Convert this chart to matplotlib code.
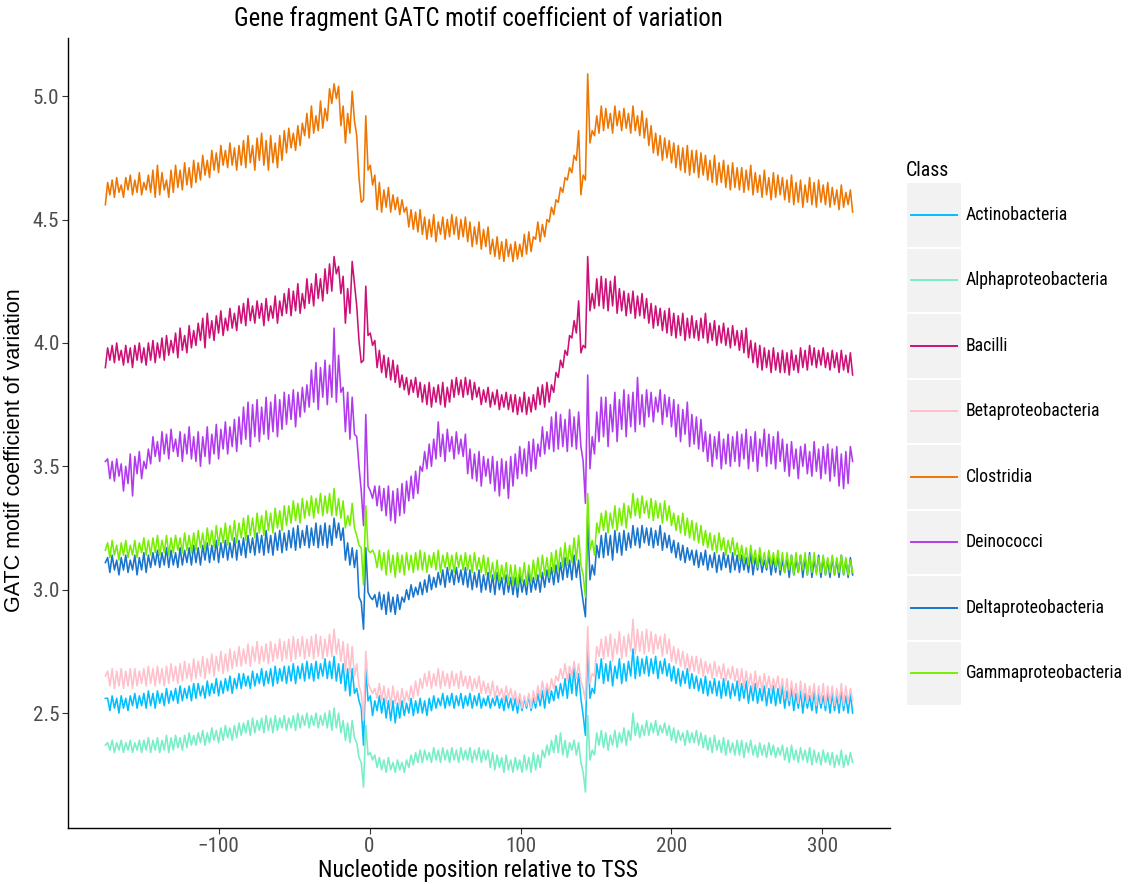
import numpy as np
import matplotlib
matplotlib.use("Agg")
import matplotlib.pyplot as plt
from matplotlib import font_manager
from matplotlib.patches import Rectangle

# GATC coefficient of variation per class, peaks/troughs every 1.5 nt from -175
start, step = -175, 1.5

actinobacteria = [
    2.56, 2.56, 2.51, 2.57, 2.52, 2.56, 2.50, 2.57, 2.52, 2.56, 2.51, 2.57, 2.53, 2.58, 2.52, 2.57, 2.53, 2.58, 2.52, 2.59,
    2.53, 2.58, 2.52, 2.59, 2.54, 2.58, 2.53, 2.60, 2.54, 2.59, 2.55, 2.60, 2.54, 2.61, 2.55, 2.60, 2.56, 2.61, 2.55, 2.62,
    2.56, 2.62, 2.57, 2.61, 2.56, 2.63, 2.57, 2.62, 2.58, 2.64, 2.57, 2.63, 2.58, 2.64, 2.59, 2.65, 2.58, 2.64, 2.60, 2.66,
    2.60, 2.66, 2.61, 2.65, 2.60, 2.67, 2.61, 2.66, 2.62, 2.68, 2.61, 2.67, 2.62, 2.68, 2.61, 2.69, 2.62, 2.68, 2.63, 2.69,
    2.62, 2.69, 2.63, 2.70, 2.62, 2.69, 2.64, 2.70, 2.63, 2.71, 2.64, 2.70, 2.63, 2.71, 2.64, 2.70, 2.65, 2.72, 2.64, 2.71,
    2.64, 2.73, 2.63, 2.70, 2.62, 2.70, 2.59, 2.68, 2.57, 2.68, 2.58, 2.60, 2.55, 2.52, 2.37, 2.68, 2.55, 2.57, 2.49, 2.55,
    2.51, 2.57, 2.50, 2.56, 2.48, 2.55, 2.47, 2.55, 2.46, 2.54, 2.48, 2.55, 2.49, 2.54, 2.50, 2.56, 2.49, 2.55, 2.50, 2.56,
    2.50, 2.55, 2.49, 2.56, 2.51, 2.57, 2.52, 2.56, 2.53, 2.58, 2.52, 2.57, 2.53, 2.58, 2.52, 2.57, 2.53, 2.58, 2.52, 2.57,
    2.53, 2.58, 2.52, 2.57, 2.53, 2.58, 2.52, 2.56, 2.53, 2.57, 2.52, 2.56, 2.53, 2.57, 2.52, 2.56, 2.51, 2.57, 2.52, 2.56,
    2.51, 2.56, 2.50, 2.57, 2.51, 2.56, 2.52, 2.57, 2.51, 2.56, 2.52, 2.58, 2.53, 2.59, 2.52, 2.60, 2.54, 2.59, 2.55, 2.61,
    2.56, 2.62, 2.57, 2.64, 2.56, 2.66, 2.58, 2.69, 2.57, 2.66, 2.56, 2.49, 2.41, 2.79, 2.56, 2.60, 2.58, 2.70, 2.64, 2.72,
    2.62, 2.70, 2.63, 2.71, 2.61, 2.69, 2.64, 2.72, 2.62, 2.70, 2.63, 2.71, 2.65, 2.76, 2.64, 2.73, 2.65, 2.72, 2.66, 2.73,
    2.65, 2.72, 2.66, 2.73, 2.64, 2.71, 2.66, 2.72, 2.65, 2.70, 2.63, 2.69, 2.62, 2.68, 2.61, 2.67, 2.62, 2.68, 2.60, 2.66,
    2.60, 2.65, 2.59, 2.64, 2.58, 2.65, 2.57, 2.63, 2.58, 2.64, 2.57, 2.63, 2.56, 2.64, 2.57, 2.63, 2.56, 2.62, 2.57, 2.63,
    2.55, 2.62, 2.56, 2.63, 2.54, 2.61, 2.55, 2.62, 2.54, 2.60, 2.55, 2.61, 2.53, 2.60, 2.54, 2.61, 2.53, 2.60, 2.54, 2.61,
    2.52, 2.59, 2.53, 2.60, 2.51, 2.58, 2.52, 2.59, 2.50, 2.58, 2.52, 2.57, 2.51, 2.59, 2.50, 2.58, 2.52, 2.57, 2.51, 2.58,
    2.50, 2.58, 2.51, 2.57, 2.50, 2.59, 2.51, 2.57, 2.50, 2.58, 2.50,
]

alphaproteobacteria = [
    2.37, 2.38, 2.35, 2.39, 2.34, 2.38, 2.35, 2.39, 2.34, 2.38, 2.35, 2.39, 2.34, 2.38, 2.35, 2.39, 2.34, 2.39, 2.35, 2.40,
    2.34, 2.39, 2.35, 2.40, 2.34, 2.39, 2.35, 2.41, 2.34, 2.40, 2.35, 2.41, 2.36, 2.40, 2.35, 2.41, 2.36, 2.42, 2.37, 2.41,
    2.37, 2.42, 2.38, 2.43, 2.37, 2.42, 2.38, 2.44, 2.39, 2.43, 2.38, 2.44, 2.39, 2.45, 2.40, 2.44, 2.39, 2.45, 2.40, 2.46,
    2.41, 2.46, 2.42, 2.47, 2.41, 2.48, 2.42, 2.47, 2.43, 2.48, 2.42, 2.49, 2.43, 2.48, 2.42, 2.49, 2.43, 2.48, 2.44, 2.49,
    2.43, 2.48, 2.44, 2.49, 2.43, 2.50, 2.44, 2.49, 2.45, 2.50, 2.44, 2.49, 2.45, 2.50, 2.44, 2.49, 2.45, 2.50, 2.44, 2.51,
    2.43, 2.52, 2.44, 2.50, 2.42, 2.47, 2.39, 2.46, 2.38, 2.47, 2.40, 2.38, 2.32, 2.30, 2.20, 2.45, 2.33, 2.34, 2.31, 2.33,
    2.28, 2.32, 2.27, 2.31, 2.26, 2.32, 2.27, 2.30, 2.26, 2.31, 2.27, 2.30, 2.26, 2.31, 2.28, 2.33, 2.29, 2.34, 2.30, 2.35,
    2.30, 2.35, 2.31, 2.34, 2.30, 2.36, 2.31, 2.35, 2.30, 2.36, 2.31, 2.35, 2.30, 2.36, 2.31, 2.35, 2.30, 2.36, 2.31, 2.35,
    2.31, 2.36, 2.30, 2.35, 2.31, 2.36, 2.30, 2.35, 2.31, 2.35, 2.28, 2.34, 2.27, 2.33, 2.28, 2.32, 2.26, 2.33, 2.27, 2.31,
    2.26, 2.32, 2.27, 2.31, 2.26, 2.33, 2.27, 2.32, 2.26, 2.34, 2.27, 2.33, 2.28, 2.35, 2.32, 2.37, 2.33, 2.39, 2.34, 2.41,
    2.34, 2.42, 2.33, 2.39, 2.32, 2.38, 2.35, 2.39, 2.33, 2.38, 2.30, 2.26, 2.18, 2.49, 2.31, 2.35, 2.33, 2.42, 2.37, 2.43,
    2.36, 2.42, 2.35, 2.41, 2.37, 2.43, 2.36, 2.42, 2.38, 2.44, 2.37, 2.43, 2.39, 2.50, 2.41, 2.46, 2.40, 2.45, 2.41, 2.47,
    2.41, 2.46, 2.42, 2.47, 2.41, 2.45, 2.42, 2.46, 2.41, 2.45, 2.39, 2.44, 2.38, 2.43, 2.39, 2.42, 2.37, 2.43, 2.38, 2.42,
    2.38, 2.43, 2.37, 2.42, 2.36, 2.41, 2.35, 2.40, 2.34, 2.41, 2.35, 2.39, 2.34, 2.40, 2.33, 2.39, 2.34, 2.38, 2.33, 2.39,
    2.33, 2.39, 2.32, 2.38, 2.34, 2.39, 2.33, 2.37, 2.32, 2.38, 2.33, 2.37, 2.32, 2.38, 2.33, 2.37, 2.32, 2.36, 2.33, 2.37,
    2.31, 2.36, 2.30, 2.37, 2.31, 2.35, 2.30, 2.36, 2.31, 2.35, 2.30, 2.36, 2.29, 2.35, 2.30, 2.34, 2.29, 2.35, 2.30, 2.34,
    2.29, 2.34, 2.28, 2.33, 2.29, 2.35, 2.28, 2.33, 2.29, 2.34, 2.30,
]

bacilli = [
    3.90, 3.98, 3.93, 3.99, 3.92, 4.00, 3.93, 3.97, 3.91, 3.99, 3.92, 3.98, 3.90, 3.99, 3.93, 4.00, 3.92, 3.98, 3.91, 4.00,
    3.93, 4.01, 3.92, 4.00, 3.94, 4.02, 3.93, 4.03, 3.95, 4.01, 3.96, 4.04, 3.94, 4.06, 3.97, 4.03, 3.96, 4.07, 3.98, 4.05,
    3.99, 4.08, 4.01, 4.10, 3.98, 4.12, 4.02, 4.09, 4.01, 4.11, 4.04, 4.13, 4.03, 4.10, 4.05, 4.14, 4.06, 4.12, 4.05, 4.15,
    4.08, 4.16, 4.07, 4.18, 4.09, 4.15, 4.08, 4.17, 4.10, 4.16, 4.07, 4.18, 4.09, 4.15, 4.10, 4.19, 4.08, 4.17, 4.11, 4.20,
    4.12, 4.22, 4.11, 4.21, 4.13, 4.24, 4.12, 4.20, 4.14, 4.26, 4.16, 4.24, 4.15, 4.28, 4.18, 4.26, 4.17, 4.30, 4.20, 4.32,
    4.21, 4.35, 4.28, 4.31, 4.20, 4.27, 4.08, 4.22, 4.12, 4.33, 4.24, 4.15, 4.01, 3.92, 3.93, 4.23, 4.03, 4.04, 3.99, 4.01,
    3.90, 3.97, 3.88, 3.95, 3.86, 3.94, 3.85, 3.93, 3.84, 3.91, 3.82, 3.87, 3.81, 3.86, 3.79, 3.85, 3.80, 3.86, 3.78, 3.84,
    3.76, 3.83, 3.75, 3.84, 3.74, 3.82, 3.76, 3.83, 3.75, 3.84, 3.74, 3.82, 3.76, 3.85, 3.78, 3.86, 3.79, 3.85, 3.78, 3.86,
    3.79, 3.85, 3.77, 3.84, 3.78, 3.82, 3.75, 3.81, 3.76, 3.82, 3.74, 3.80, 3.75, 3.81, 3.73, 3.79, 3.74, 3.80, 3.73, 3.79,
    3.72, 3.79, 3.71, 3.78, 3.72, 3.80, 3.71, 3.78, 3.72, 3.79, 3.73, 3.82, 3.75, 3.83, 3.74, 3.84, 3.76, 3.83, 3.80, 3.88,
    3.86, 3.93, 3.90, 3.97, 3.95, 4.03, 4.02, 4.09, 4.04, 4.17, 3.96, 3.99, 3.98, 4.35, 4.13, 4.20, 4.14, 4.26, 4.15, 4.27,
    4.14, 4.26, 4.13, 4.25, 4.15, 4.27, 4.12, 4.22, 4.13, 4.21, 4.11, 4.20, 4.12, 4.21, 4.10, 4.19, 4.11, 4.20, 4.10, 4.18,
    4.08, 4.16, 4.06, 4.15, 4.07, 4.14, 4.05, 4.13, 4.04, 4.14, 4.03, 4.12, 4.02, 4.11, 4.03, 4.12, 4.01, 4.10, 4.02, 4.11,
    4.02, 4.09, 4.01, 4.10, 4.02, 4.12, 4.00, 4.08, 4.01, 4.09, 3.99, 4.07, 4.00, 4.08, 3.99, 4.06, 3.98, 4.07, 3.99, 4.05,
    3.97, 4.05, 3.96, 4.06, 3.94, 4.01, 3.92, 4.00, 3.90, 3.99, 3.89, 3.98, 3.90, 3.97, 3.88, 3.98, 3.89, 3.96, 3.88, 3.97,
    3.88, 3.96, 3.87, 3.97, 3.89, 3.95, 3.88, 3.98, 3.90, 3.97, 3.89, 3.99, 3.91, 3.98, 3.90, 3.97, 3.91, 3.98, 3.90, 3.96,
    3.89, 3.97, 3.90, 3.96, 3.88, 3.97, 3.89, 3.95, 3.88, 3.96, 3.87,
]

betaproteobacteria = [
    2.65, 2.67, 2.61, 2.68, 2.60, 2.67, 2.61, 2.68, 2.60, 2.67, 2.61, 2.68, 2.60, 2.68, 2.61, 2.67, 2.62, 2.68, 2.61, 2.69,
    2.62, 2.68, 2.61, 2.69, 2.62, 2.68, 2.61, 2.69, 2.62, 2.70, 2.63, 2.69, 2.62, 2.70, 2.63, 2.71, 2.64, 2.70, 2.63, 2.72,
    2.64, 2.71, 2.65, 2.73, 2.64, 2.72, 2.66, 2.74, 2.65, 2.73, 2.67, 2.75, 2.66, 2.74, 2.67, 2.76, 2.68, 2.75, 2.69, 2.77,
    2.69, 2.76, 2.70, 2.78, 2.69, 2.77, 2.71, 2.79, 2.70, 2.77, 2.71, 2.78, 2.70, 2.79, 2.71, 2.78, 2.72, 2.80, 2.71, 2.79,
    2.72, 2.80, 2.71, 2.81, 2.72, 2.80, 2.73, 2.81, 2.72, 2.80, 2.73, 2.81, 2.72, 2.82, 2.73, 2.81, 2.72, 2.80, 2.73, 2.82,
    2.73, 2.84, 2.74, 2.80, 2.71, 2.79, 2.67, 2.78, 2.66, 2.77, 2.65, 2.70, 2.61, 2.58, 2.47, 2.75, 2.62, 2.60, 2.58, 2.60,
    2.56, 2.62, 2.55, 2.61, 2.54, 2.60, 2.53, 2.61, 2.54, 2.59, 2.53, 2.60, 2.54, 2.59, 2.55, 2.61, 2.56, 2.63, 2.57, 2.64,
    2.60, 2.66, 2.61, 2.67, 2.60, 2.66, 2.61, 2.68, 2.60, 2.67, 2.61, 2.66, 2.60, 2.67, 2.61, 2.66, 2.60, 2.67, 2.61, 2.65,
    2.60, 2.65, 2.59, 2.64, 2.60, 2.65, 2.58, 2.63, 2.58, 2.62, 2.57, 2.63, 2.56, 2.61, 2.57, 2.60, 2.55, 2.61, 2.56, 2.60,
    2.55, 2.59, 2.53, 2.58, 2.52, 2.57, 2.53, 2.58, 2.52, 2.59, 2.54, 2.61, 2.56, 2.63, 2.57, 2.62, 2.58, 2.64, 2.60, 2.65,
    2.63, 2.68, 2.64, 2.70, 2.63, 2.69, 2.65, 2.71, 2.64, 2.70, 2.63, 2.60, 2.55, 2.85, 2.62, 2.66, 2.65, 2.77, 2.73, 2.80,
    2.72, 2.81, 2.73, 2.82, 2.71, 2.80, 2.74, 2.83, 2.72, 2.81, 2.73, 2.82, 2.75, 2.88, 2.74, 2.84, 2.75, 2.83, 2.74, 2.84,
    2.75, 2.83, 2.74, 2.82, 2.76, 2.81, 2.73, 2.82, 2.74, 2.80, 2.71, 2.77, 2.70, 2.76, 2.69, 2.75, 2.68, 2.74, 2.67, 2.73,
    2.67, 2.73, 2.66, 2.72, 2.65, 2.71, 2.66, 2.70, 2.64, 2.71, 2.65, 2.69, 2.64, 2.70, 2.63, 2.68, 2.64, 2.69, 2.63, 2.68,
    2.61, 2.68, 2.60, 2.67, 2.61, 2.66, 2.59, 2.67, 2.60, 2.65, 2.59, 2.66, 2.60, 2.65, 2.59, 2.64, 2.60, 2.65, 2.58, 2.64,
    2.56, 2.64, 2.55, 2.63, 2.56, 2.62, 2.54, 2.63, 2.55, 2.62, 2.54, 2.61, 2.55, 2.62, 2.53, 2.61, 2.54, 2.62, 2.53, 2.61,
    2.54, 2.61, 2.53, 2.60, 2.54, 2.62, 2.53, 2.61, 2.54, 2.60, 2.55,
]

clostridia = [
    4.56, 4.65, 4.60, 4.66, 4.59, 4.67, 4.61, 4.64, 4.59, 4.67, 4.62, 4.68, 4.60, 4.66, 4.61, 4.69, 4.60, 4.65, 4.62, 4.68,
    4.61, 4.70, 4.59, 4.72, 4.60, 4.69, 4.62, 4.66, 4.59, 4.70, 4.61, 4.72, 4.63, 4.70, 4.62, 4.73, 4.64, 4.71, 4.63, 4.74,
    4.65, 4.73, 4.66, 4.76, 4.68, 4.74, 4.67, 4.78, 4.70, 4.77, 4.69, 4.80, 4.72, 4.78, 4.71, 4.81, 4.72, 4.79, 4.70, 4.80,
    4.72, 4.82, 4.71, 4.84, 4.73, 4.80, 4.70, 4.83, 4.74, 4.85, 4.72, 4.82, 4.70, 4.84, 4.73, 4.81, 4.71, 4.84, 4.74, 4.86,
    4.77, 4.87, 4.79, 4.85, 4.78, 4.88, 4.80, 4.89, 4.84, 4.93, 4.83, 4.96, 4.85, 4.92, 4.86, 4.98, 4.87, 4.95, 4.90, 5.03,
    4.97, 5.05, 4.99, 5.04, 4.88, 4.96, 4.81, 4.93, 4.85, 5.02, 4.90, 4.84, 4.67, 4.57, 4.58, 4.92, 4.70, 4.72, 4.64, 4.68,
    4.54, 4.65, 4.53, 4.62, 4.55, 4.63, 4.53, 4.60, 4.54, 4.59, 4.52, 4.58, 4.53, 4.55, 4.47, 4.54, 4.46, 4.53, 4.45, 4.54,
    4.44, 4.51, 4.42, 4.50, 4.43, 4.52, 4.41, 4.49, 4.44, 4.51, 4.42, 4.50, 4.43, 4.52, 4.44, 4.51, 4.42, 4.50, 4.43, 4.51,
    4.41, 4.49, 4.39, 4.47, 4.40, 4.49, 4.38, 4.46, 4.39, 4.47, 4.36, 4.42, 4.35, 4.43, 4.34, 4.41, 4.33, 4.42, 4.35, 4.40,
    4.33, 4.41, 4.34, 4.40, 4.35, 4.44, 4.36, 4.45, 4.37, 4.43, 4.42, 4.49, 4.41, 4.48, 4.43, 4.50, 4.49, 4.55, 4.52, 4.58,
    4.57, 4.63, 4.61, 4.67, 4.66, 4.71, 4.69, 4.76, 4.74, 4.86, 4.60, 4.68, 4.66, 5.09, 4.81, 4.86, 4.84, 4.92, 4.85, 4.96,
    4.86, 4.95, 4.87, 4.93, 4.85, 4.96, 4.88, 4.94, 4.86, 4.95, 4.87, 4.93, 4.85, 4.96, 4.86, 4.92, 4.84, 4.94, 4.83, 4.91,
    4.80, 4.88, 4.77, 4.85, 4.76, 4.84, 4.74, 4.83, 4.75, 4.82, 4.73, 4.81, 4.71, 4.80, 4.70, 4.79, 4.69, 4.80, 4.68, 4.78,
    4.69, 4.78, 4.67, 4.77, 4.68, 4.76, 4.66, 4.74, 4.65, 4.76, 4.64, 4.73, 4.65, 4.74, 4.63, 4.72, 4.62, 4.73, 4.63, 4.71,
    4.62, 4.71, 4.61, 4.70, 4.62, 4.72, 4.60, 4.69, 4.61, 4.68, 4.59, 4.70, 4.60, 4.67, 4.58, 4.69, 4.59, 4.68, 4.60, 4.67,
    4.58, 4.66, 4.57, 4.68, 4.56, 4.65, 4.57, 4.66, 4.55, 4.64, 4.57, 4.67, 4.56, 4.65, 4.55, 4.66, 4.57, 4.64, 4.56, 4.65,
    4.55, 4.63, 4.56, 4.62, 4.54, 4.64, 4.55, 4.61, 4.56, 4.62, 4.53,
]

deinococci = [
    3.52, 3.53, 3.45, 3.52, 3.44, 3.53, 3.46, 3.51, 3.40, 3.50, 3.43, 3.55, 3.38, 3.54, 3.47, 3.56, 3.45, 3.52, 3.49, 3.57,
    3.51, 3.62, 3.54, 3.60, 3.52, 3.64, 3.55, 3.63, 3.53, 3.65, 3.56, 3.61, 3.54, 3.64, 3.52, 3.63, 3.55, 3.66, 3.53, 3.62,
    3.52, 3.64, 3.50, 3.62, 3.54, 3.66, 3.51, 3.63, 3.55, 3.67, 3.53, 3.65, 3.57, 3.68, 3.55, 3.66, 3.58, 3.69, 3.56, 3.70,
    3.59, 3.74, 3.61, 3.76, 3.58, 3.75, 3.62, 3.77, 3.60, 3.74, 3.63, 3.78, 3.61, 3.76, 3.64, 3.79, 3.62, 3.77, 3.65, 3.80,
    3.67, 3.79, 3.69, 3.81, 3.66, 3.80, 3.70, 3.82, 3.72, 3.83, 3.74, 3.89, 3.76, 3.92, 3.73, 3.90, 3.78, 3.93, 3.75, 3.91,
    3.78, 4.06, 3.76, 3.95, 3.80, 3.82, 3.64, 3.80, 3.61, 3.78, 3.63, 3.62, 3.50, 3.40, 3.26, 3.71, 3.42, 3.40, 3.37, 3.42,
    3.34, 3.42, 3.32, 3.41, 3.30, 3.42, 3.28, 3.40, 3.27, 3.41, 3.30, 3.43, 3.31, 3.44, 3.36, 3.46, 3.37, 3.48, 3.39, 3.50,
    3.48, 3.56, 3.49, 3.59, 3.50, 3.61, 3.53, 3.68, 3.54, 3.63, 3.52, 3.65, 3.56, 3.62, 3.53, 3.64, 3.55, 3.61, 3.54, 3.63,
    3.47, 3.57, 3.45, 3.55, 3.44, 3.56, 3.42, 3.54, 3.46, 3.53, 3.43, 3.54, 3.40, 3.52, 3.38, 3.53, 3.41, 3.52, 3.37, 3.54,
    3.42, 3.55, 3.45, 3.58, 3.47, 3.57, 3.46, 3.60, 3.48, 3.61, 3.49, 3.59, 3.54, 3.66, 3.55, 3.64, 3.57, 3.70, 3.56, 3.72,
    3.57, 3.71, 3.58, 3.69, 3.56, 3.73, 3.58, 3.70, 3.57, 3.72, 3.58, 3.52, 3.35, 3.87, 3.49, 3.62, 3.55, 3.72, 3.60, 3.78,
    3.62, 3.78, 3.58, 3.75, 3.64, 3.80, 3.60, 3.77, 3.65, 3.81, 3.62, 3.79, 3.66, 3.80, 3.64, 3.86, 3.67, 3.79, 3.66, 3.81,
    3.70, 3.80, 3.68, 3.78, 3.72, 3.81, 3.67, 3.79, 3.70, 3.78, 3.66, 3.77, 3.62, 3.75, 3.60, 3.73, 3.63, 3.76, 3.58, 3.71,
    3.59, 3.70, 3.57, 3.69, 3.56, 3.64, 3.52, 3.63, 3.50, 3.62, 3.53, 3.64, 3.49, 3.61, 3.51, 3.63, 3.50, 3.62, 3.52, 3.64,
    3.50, 3.63, 3.53, 3.65, 3.49, 3.62, 3.52, 3.64, 3.48, 3.61, 3.54, 3.65, 3.50, 3.63, 3.51, 3.62, 3.49, 3.64, 3.52, 3.61,
    3.48, 3.59, 3.46, 3.60, 3.49, 3.57, 3.45, 3.58, 3.50, 3.59, 3.47, 3.56, 3.46, 3.60, 3.48, 3.57, 3.45, 3.58, 3.47, 3.59,
    3.44, 3.57, 3.46, 3.58, 3.42, 3.55, 3.41, 3.56, 3.43, 3.58, 3.52,
]

deltaproteobacteria = [
    3.11, 3.13, 3.07, 3.14, 3.08, 3.12, 3.06, 3.13, 3.08, 3.14, 3.07, 3.12, 3.08, 3.14, 3.06, 3.13, 3.08, 3.15, 3.07, 3.14,
    3.09, 3.15, 3.10, 3.16, 3.09, 3.15, 3.10, 3.17, 3.09, 3.16, 3.10, 3.15, 3.09, 3.17, 3.10, 3.16, 3.11, 3.17, 3.10, 3.18,
    3.11, 3.17, 3.10, 3.18, 3.12, 3.19, 3.11, 3.18, 3.12, 3.20, 3.11, 3.19, 3.13, 3.20, 3.12, 3.19, 3.13, 3.21, 3.12, 3.20,
    3.14, 3.21, 3.13, 3.22, 3.15, 3.21, 3.14, 3.23, 3.15, 3.22, 3.14, 3.24, 3.15, 3.22, 3.14, 3.23, 3.16, 3.24, 3.15, 3.23,
    3.16, 3.24, 3.17, 3.25, 3.16, 3.26, 3.17, 3.24, 3.18, 3.26, 3.17, 3.25, 3.18, 3.27, 3.17, 3.26, 3.18, 3.27, 3.17, 3.26,
    3.18, 3.29, 3.21, 3.27, 3.20, 3.25, 3.12, 3.19, 3.10, 3.17, 3.09, 3.16, 2.97, 2.95, 2.84, 3.17, 2.99, 2.97, 2.96, 2.98,
    2.93, 2.99, 2.92, 2.98, 2.90, 2.99, 2.91, 2.97, 2.90, 2.98, 2.92, 2.97, 2.95, 3.00, 2.96, 3.02, 2.97, 3.01, 2.98, 3.03,
    2.98, 3.04, 2.99, 3.06, 3.00, 3.05, 3.01, 3.07, 3.02, 3.08, 3.01, 3.09, 3.03, 3.08, 3.02, 3.09, 3.03, 3.08, 3.02, 3.09,
    3.01, 3.08, 3.00, 3.07, 3.01, 3.08, 2.99, 3.06, 3.00, 3.07, 2.99, 3.06, 2.98, 3.07, 3.00, 3.05, 2.98, 3.06, 2.99, 3.05,
    2.98, 3.05, 2.97, 3.06, 2.99, 3.04, 2.98, 3.07, 2.99, 3.05, 3.00, 3.06, 2.99, 3.07, 3.01, 3.08, 3.03, 3.09, 3.02, 3.10,
    3.03, 3.11, 3.04, 3.13, 3.05, 3.12, 3.04, 3.14, 3.05, 3.12, 3.02, 2.95, 2.89, 3.30, 3.04, 3.10, 3.06, 3.18, 3.13, 3.22,
    3.13, 3.23, 3.14, 3.22, 3.12, 3.24, 3.15, 3.23, 3.14, 3.24, 3.16, 3.23, 3.17, 3.26, 3.18, 3.25, 3.17, 3.26, 3.19, 3.25,
    3.18, 3.25, 3.17, 3.24, 3.18, 3.26, 3.16, 3.23, 3.17, 3.22, 3.15, 3.20, 3.13, 3.19, 3.12, 3.18, 3.11, 3.17, 3.12, 3.16,
    3.10, 3.16, 3.09, 3.15, 3.10, 3.16, 3.08, 3.14, 3.09, 3.15, 3.07, 3.14, 3.08, 3.15, 3.09, 3.14, 3.07, 3.15, 3.08, 3.14,
    3.07, 3.14, 3.08, 3.13, 3.07, 3.15, 3.06, 3.13, 3.08, 3.14, 3.07, 3.12, 3.08, 3.14, 3.06, 3.13, 3.07, 3.14, 3.06, 3.12,
    3.07, 3.13, 3.05, 3.14, 3.06, 3.12, 3.07, 3.14, 3.05, 3.13, 3.06, 3.15, 3.05, 3.12, 3.07, 3.14, 3.05, 3.13, 3.06, 3.12,
    3.05, 3.13, 3.06, 3.12, 3.05, 3.14, 3.06, 3.12, 3.05, 3.13, 3.06,
]

gammaproteobacteria = [
    3.16, 3.19, 3.13, 3.20, 3.14, 3.18, 3.12, 3.19, 3.14, 3.20, 3.13, 3.18, 3.14, 3.20, 3.13, 3.19, 3.15, 3.21, 3.14, 3.20,
    3.14, 3.21, 3.15, 3.22, 3.14, 3.20, 3.15, 3.22, 3.14, 3.21, 3.15, 3.22, 3.16, 3.21, 3.15, 3.23, 3.16, 3.22, 3.15, 3.23,
    3.16, 3.24, 3.17, 3.23, 3.16, 3.25, 3.18, 3.24, 3.17, 3.26, 3.18, 3.25, 3.19, 3.27, 3.18, 3.26, 3.20, 3.28, 3.19, 3.27,
    3.21, 3.29, 3.20, 3.30, 3.22, 3.29, 3.21, 3.31, 3.23, 3.30, 3.22, 3.32, 3.24, 3.31, 3.23, 3.33, 3.25, 3.32, 3.24, 3.34,
    3.26, 3.34, 3.27, 3.36, 3.28, 3.35, 3.27, 3.37, 3.29, 3.36, 3.30, 3.38, 3.29, 3.37, 3.31, 3.39, 3.30, 3.38, 3.31, 3.39,
    3.30, 3.41, 3.30, 3.37, 3.29, 3.36, 3.25, 3.30, 3.26, 3.35, 3.25, 3.22, 3.18, 3.17, 3.02, 3.34, 3.16, 3.15, 3.16, 3.14,
    3.09, 3.16, 3.08, 3.15, 3.06, 3.16, 3.07, 3.14, 3.05, 3.15, 3.07, 3.14, 3.06, 3.15, 3.08, 3.14, 3.07, 3.15, 3.08, 3.16,
    3.08, 3.15, 3.07, 3.14, 3.09, 3.15, 3.08, 3.16, 3.07, 3.14, 3.09, 3.15, 3.08, 3.14, 3.07, 3.15, 3.09, 3.14, 3.08, 3.15,
    3.08, 3.14, 3.07, 3.15, 3.08, 3.13, 3.07, 3.14, 3.06, 3.13, 3.05, 3.11, 3.04, 3.12, 3.03, 3.10, 3.04, 3.11, 3.02, 3.10,
    3.02, 3.10, 3.01, 3.09, 3.03, 3.11, 3.02, 3.10, 3.03, 3.12, 3.04, 3.13, 3.05, 3.14, 3.06, 3.13, 3.05, 3.15, 3.07, 3.16,
    3.08, 3.17, 3.09, 3.19, 3.10, 3.18, 3.11, 3.21, 3.12, 3.22, 3.10, 3.06, 2.97, 3.39, 3.16, 3.20, 3.14, 3.27, 3.23, 3.31,
    3.24, 3.32, 3.23, 3.31, 3.25, 3.34, 3.24, 3.33, 3.26, 3.35, 3.25, 3.34, 3.29, 3.39, 3.30, 3.37, 3.29, 3.38, 3.31, 3.36,
    3.29, 3.37, 3.28, 3.36, 3.29, 3.35, 3.27, 3.36, 3.28, 3.34, 3.26, 3.31, 3.24, 3.30, 3.23, 3.31, 3.22, 3.29, 3.21, 3.28,
    3.20, 3.27, 3.19, 3.26, 3.18, 3.24, 3.17, 3.23, 3.16, 3.22, 3.15, 3.23, 3.16, 3.21, 3.14, 3.20, 3.15, 3.21, 3.14, 3.19,
    3.12, 3.18, 3.11, 3.17, 3.10, 3.18, 3.11, 3.16, 3.09, 3.17, 3.10, 3.15, 3.09, 3.16, 3.10, 3.15, 3.09, 3.16, 3.08, 3.15,
    3.07, 3.15, 3.08, 3.14, 3.06, 3.15, 3.07, 3.14, 3.08, 3.15, 3.06, 3.14, 3.07, 3.15, 3.06, 3.13, 3.07, 3.14, 3.06, 3.13,
    3.07, 3.14, 3.06, 3.13, 3.07, 3.14, 3.06, 3.13, 3.06, 3.12, 3.07,
]

classes = ["Actinobacteria", "Alphaproteobacteria", "Bacilli", "Betaproteobacteria",
           "Clostridia", "Deinococci", "Deltaproteobacteria", "Gammaproteobacteria"]
series = [actinobacteria, alphaproteobacteria, bacilli, betaproteobacteria,
          clostridia, deinococci, deltaproteobacteria, gammaproteobacteria]
colors = ["#00BFFF", "#76EEC6", "#CD1076", "#FFC0CB",
          "#EE7600", "#B23AEE", "#1874CD", "#76EE00"]

# pick a narrow sans if one is around, otherwise an Arial-metric one
installed = {f.name for f in font_manager.fontManager.ttflist}
narrow = None
for fam in ["Liberation Sans Narrow", "Arial Narrow", "Roboto Condensed",
            "Open Sans Condensed", "DejaVu Sans Condensed", "Liberation Sans",
            "Roboto", "DejaVu Sans"]:
    if fam in installed:
        narrow = fam
        break
regular = "Liberation Sans" if "Liberation Sans" in installed else "DejaVu Sans"
plt.rcParams["font.family"] = [narrow, "DejaVu Sans"]

W, H = 1133, 884
fig = plt.figure(figsize=(W / 100, H / 100), dpi=100, facecolor="white")
ax = fig.add_axes([68 / W, 56 / H, 822 / W, 790 / H])

for name, vals, col in zip(classes, series, colors):
    pos = start + step * np.arange(len(vals))
    ax.plot(pos, vals, color=col, lw=1.15, label=name)

# ggplot-style 5% padding on both axes
allx = np.concatenate([start + step * np.arange(len(v)) for v in series])
ally = np.concatenate(series)
dx = allx.max() - allx.min()
dy = ally.max() - ally.min()
ax.set_xlim(allx.min() - 0.05 * dx, allx.max() + 0.05 * dx)
ax.set_ylim(ally.min() - 0.05 * dy, ally.max() + 0.05 * dy)

for s in ["top", "right"]:
    ax.spines[s].set_visible(False)
for s in ["left", "bottom"]:
    ax.spines[s].set_linewidth(1.0)
    ax.spines[s].set_color("black")

ax.set_xticks([-100, 0, 100, 200, 300])
ax.set_yticks([2.5, 3.0, 3.5, 4.0, 4.5, 5.0])
ax.set_yticklabels(["2.5", "3.0", "3.5", "4.0", "4.5", "5.0"])
ax.tick_params(axis="both", length=4, width=0.8, color="#333333",
               labelcolor="#4D4D4D", labelsize=14, pad=2.2)

# title and axis titles in figure pixels
ov = fig.add_axes([0, 0, 1, 1])
ov.set_xlim(0, W)
ov.set_ylim(H, 0)
ov.axis("off")
title = ov.text(478, 19, "Gene fragment GATC motif coefficient of variation",
                ha="center", va="center", fontsize=16, color="black")
xlab = ov.text(478, 870, "Nucleotide position relative to TSS",
               ha="center", va="center", fontsize=15, color="black")
ylab = ov.text(15, 450, "GATC motif coefficient of variation", rotation=90,
               ha="center", va="center", fontsize=15.5, color="black",
               family=[regular, "DejaVu Sans"])

# legend with tall grey keys
ltitle = ov.text(906, 170, "Class", ha="left", va="center", fontsize=13, color="black")
row_h = 65.5
labels = []
for k, (name, col) in enumerate(zip(classes, colors)):
    top = 183 + k * row_h
    ov.add_patch(Rectangle((907, top), 54, row_h - 2, facecolor="#F2F2F2",
                           edgecolor="none"))
    cy = top + (row_h - 2) / 2
    ov.plot([911, 957], [cy, cy], color=col, lw=1.4)
    labels.append(ov.text(966, cy, name, ha="left", va="center",
                          fontsize=11, color="black"))

# size text so that its run length fits the space it takes
fig.canvas.draw()
rend = fig.canvas.get_renderer()


def fitted(t, target, vertical=False):
    bb = t.get_window_extent(rend)
    cur = bb.height if vertical else bb.width
    return t.get_fontsize() * target / cur


title.set_fontsize(fitted(title, 490))
xlab.set_fontsize(fitted(xlab, 320))
ltitle.set_fontsize(fitted(ltitle, 43))
lab_size = fitted(labels[-1], 156)
for t in labels:
    t.set_fontsize(lab_size)
tick_lab = [t for t in ax.get_xticklabels() if t.get_text() in ("\u2212100", "-100")]
if tick_lab:
    ax.tick_params(axis="both", labelsize=fitted(tick_lab[0], 42))

fig.savefig("out.png", dpi=100, facecolor="white")
